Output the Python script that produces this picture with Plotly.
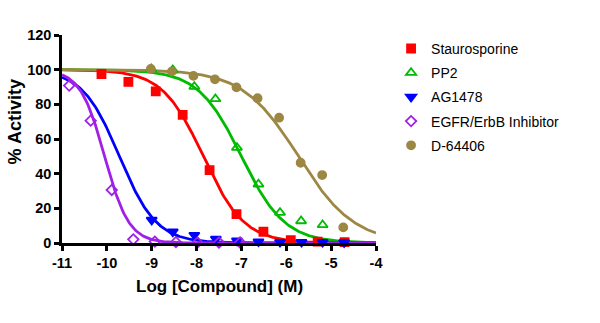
import numpy as np
import plotly.graph_objects as go

names = ["Staurosporine", "PP2", "AG1478", "EGFR/ErbB Inhibitor", "D-64406"]
colors = ["#FF0000", "#00BB00", "#0000FF", "#A020E8", "#9C8743"]
symbols = ["square", "triangle-up-open", "triangle-down", "diamond-open", "circle"]

stauro_x = [-10.12, -9.52, -8.91, -8.31, -7.71, -7.11, -6.51, -5.90, -5.30, -4.70]
stauro_y = [97.5, 92.9, 87.5, 73.9, 42.1, 16.7, 6.5, 1.7, 0.8, 0.5]
pp2_x = [-9.01, -8.53, -8.05, -7.58, -7.10, -6.62, -6.14, -5.67, -5.19]
pp2_y = [100.4, 99.8, 90.2, 83.1, 55.0, 33.9, 17.5, 12.7, 10.4]
ag_x = [-9.00, -8.53, -8.05, -7.57, -7.10, -6.62, -6.14, -5.66, -5.19, -4.71]
ag_y = [13.3, 6.5, 4.6, 2.3, 1.3, 0.8, 0.5, 0.5, 0.5, 0.3]
egfr_x = [-10.84, -10.36, -9.89, -9.41, -8.93, -8.46, -7.98, -7.50, -7.03]
egfr_y = [90.8, 70.6, 30.6, 2.1, 0.8, 0.5, 0.3, 0.3, 0.3]
d64_x = [-9.02, -8.55, -8.07, -7.59, -7.11, -6.64, -6.16, -5.68, -5.20, -4.73]
d64_y = [100.4, 99.0, 96.4, 94.4, 89.8, 83.5, 72.3, 46.3, 39.2, 9.0]

# fitted 4PL parameters (log IC50, Hill slope)
log_ic50 = [-7.85, -7.0, -9.72, -10.05, -5.73]
hill = [0.95, 0.9, 1.05, 1.6, 0.7]
top = [100, 100, 100, 100, 100]
bottom = [0, 0, 0, 0, 0]

xs = [stauro_x, pp2_x, ag_x, egfr_x, d64_x]
ys = [stauro_y, pp2_y, ag_y, egfr_y, d64_y]
msizes = [8, 9, 9, 8, 8]

fig = go.Figure()
xc = np.linspace(-11, -4, 300)
for i in range(5):
    yc = bottom[i] + (top[i] - bottom[i]) / (1 + 10 ** ((xc - log_ic50[i]) * hill[i]))
    fig.add_trace(go.Scatter(x=xc, y=yc, mode="lines", line=dict(color=colors[i], width=2.8),
                             showlegend=False, hoverinfo="skip"))
for i in range(5):
    fig.add_trace(go.Scatter(x=xs[i], y=ys[i], mode="markers", name=names[i],
                             legendgroup=str(i), cliponaxis=False,
                             marker=dict(symbol=symbols[i], size=msizes[i], color=colors[i],
                                         line=dict(width=1.8, color=colors[i]))))

tickfont = dict(size=14.5, family="Liberation Sans, Arial", weight="bold", color="black")
fig.update_layout(
    width=600, height=323,
    margin=dict(l=62, r=224, t=35, b=80),
    plot_bgcolor="white", paper_bgcolor="white",
    font=dict(family="Liberation Sans, Arial", color="black"),
    legend=dict(x=1.048, y=1.01, xanchor="left", yanchor="top", tracegroupgap=3,
                font=dict(size=14, color="black"), itemsizing="trace", bgcolor="rgba(0,0,0,0)"),
    xaxis=dict(range=[-11, -4], tickvals=[-11, -10, -9, -8, -7, -6, -5, -4],
               ticktext=["-11", "-10", "-9", "-8", "-7", "-6", "-5", "-4"],
               showline=True, linecolor="black", linewidth=2.5, ticks="outside",
               ticklen=5, tickwidth=2.5, tickcolor="black", showgrid=False, zeroline=False,
               tickfont=tickfont),
    yaxis=dict(range=[0, 120], tickvals=[0, 20, 40, 60, 80, 100, 120],
               showline=True, linecolor="black", linewidth=2.5, ticks="outside",
               ticklen=5, tickwidth=2.5, tickcolor="black", showgrid=False, zeroline=False,
               tickfont=tickfont),
    annotations=[
        dict(text="<b>Log [Compound] (M)</b>", xref="paper", yref="paper", x=0.5, y=-0.207,
             xanchor="center", yanchor="middle", showarrow=False,
             font=dict(size=17, family="Liberation Sans, Arial", color="black")),
        dict(text="<b>% Activity</b>", xref="paper", yref="paper", x=-0.150, y=0.584,
             xanchor="center", yanchor="middle", showarrow=False, textangle=-90,
             font=dict(size=18, family="Liberation Sans, Arial", color="black")),
    ],
)
fig.write_html("out.html")
